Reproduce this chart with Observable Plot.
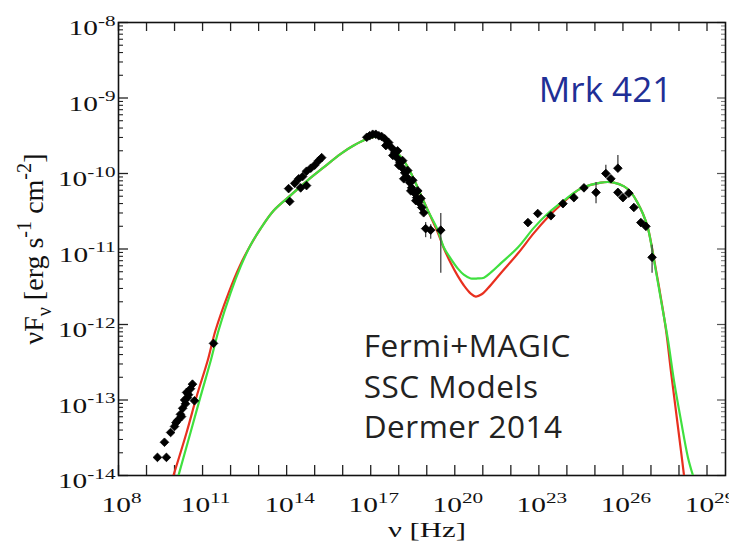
<!DOCTYPE html>
<html><head><meta charset="utf-8">
<script src="https://cdn.jsdelivr.net/npm/d3@7"></script>
<script src="https://cdn.jsdelivr.net/npm/@observablehq/plot@0.6"></script>
<style>html,body{margin:0;padding:0;background:#fff} svg{display:block}</style>
</head><body><div id="chart"></div>
<script>
// ---- Data: pairs are [log10 ν (Hz), log10 νFν (erg s^-1 cm^-2)] ----
const radioPts = [
  [9.39,-13.76],[9.71,-13.76],[9.64,-13.56],[9.86,-13.43],[10.0,-13.35],[10.05,-13.30],
  [10.11,-13.27],[10.21,-13.19],[10.25,-13.22],[10.29,-13.11],[10.36,-13.0],[10.39,-13.05],
  [10.46,-12.97],[10.43,-12.90],[10.5,-12.93],[10.57,-12.85],[10.64,-12.79],[10.71,-13.01],
  [11.39,-12.25]
];
const opticalPts = [
  [14.11,-10.37],[14.07,-10.20],[14.29,-10.13],[14.43,-10.07],[14.57,-10.04],[14.71,-9.97],
  [14.86,-9.93],[15.0,-9.89],[15.14,-9.83],[15.25,-9.79],[14.5,-10.19],[14.71,-10.16]
];
const xrayPts = [
  [16.86,-9.52],[16.96,-9.50],[17.07,-9.48],[17.18,-9.48],[17.29,-9.50],[17.39,-9.51],[17.50,-9.54],
  [17.54,-9.63],[17.64,-9.59],[17.75,-9.66],[17.79,-9.76],[17.86,-9.72],[17.93,-9.79],[17.96,-9.70],
  [18.0,-9.89],[18.04,-9.85],[18.11,-9.92],[18.14,-9.83],[18.18,-10.07],[18.21,-9.99],[18.29,-10.05],
  [18.32,-9.96],[18.39,-10.12],[18.43,-10.23],[18.46,-10.19],[18.5,-10.09],[18.54,-10.25],[18.61,-10.36],
  [18.64,-10.32],[18.68,-10.23],[18.71,-10.38],[18.79,-10.33],[18.82,-10.45],[18.89,-10.52],
  [18.96,-10.73],[19.14,-10.75],[19.5,-10.75]
];
const gammaPts = [
  [22.61,-10.65],[22.96,-10.53],[23.43,-10.56],[23.86,-10.40],[24.25,-10.32],[24.61,-10.19],
  [25.04,-10.25],[25.39,-10.00],[25.57,-10.07],[25.82,-9.93],[25.82,-10.25],[26.0,-10.32],
  [26.21,-10.26],[26.39,-10.45],[26.64,-10.65],[26.82,-10.70],[27.04,-11.11]
];
// error bars: [log10 ν, log10 low, log10 high]
const errorBars = [
  [18.96,-10.85,-10.65],[19.14,-10.87,-10.68],[19.5,-11.32,-10.53],
  [25.04,-10.40,-10.12],[25.39,-10.05,-9.89],[25.82,-9.98,-9.76],[27.04,-11.32,-10.95]
];
// SSC model curves
const greenCurve = [
  [10.14,-14.0],[10.57,-13.43],[10.93,-12.95],[11.29,-12.48],[11.57,-12.08],[12.0,-11.58],
  [12.36,-11.23],[12.71,-10.95],[13.07,-10.73],[13.54,-10.49],[14.14,-10.29],[14.75,-10.09],
  [15.32,-9.92],[15.93,-9.74],[16.39,-9.63],[16.89,-9.54],[17.29,-9.51],[17.61,-9.59],
  [17.89,-9.70],[18.18,-9.83],[18.43,-9.99],[18.68,-10.19],[19.04,-10.49],[19.39,-10.75],
  [19.61,-10.98],[19.86,-11.13],[20.11,-11.26],[20.32,-11.34],[20.57,-11.39],[20.82,-11.39],
  [21.04,-11.38],[21.29,-11.31],[21.64,-11.19],[22.25,-10.98],[22.82,-10.72],[23.32,-10.53],
  [23.89,-10.36],[24.5,-10.20],[25.21,-10.12],[25.68,-10.12],[26.04,-10.17],[26.29,-10.25],
  [26.54,-10.40],[26.71,-10.53],[26.89,-10.72],[27.11,-11.15],[27.36,-11.68],[27.61,-12.21],
  [27.82,-12.74],[28.07,-13.27],[28.32,-13.76],[28.5,-14.0]
];
const redCurve = [
  [9.96,-14.0],[10.43,-13.43],[10.79,-12.95],[11.18,-12.48],[11.46,-12.08],[11.93,-11.58],
  [12.32,-11.23],[12.68,-10.97],[13.07,-10.73],[13.54,-10.49],[14.14,-10.29],[14.75,-10.09],
  [15.32,-9.92],[15.93,-9.74],[16.39,-9.63],[16.89,-9.54],[17.29,-9.51],[17.61,-9.59],
  [17.89,-9.70],[18.18,-9.83],[18.43,-9.99],[18.68,-10.19],[19.04,-10.49],[19.39,-10.78],
  [19.61,-10.99],[19.86,-11.19],[20.11,-11.36],[20.32,-11.48],[20.57,-11.59],[20.75,-11.63],
  [20.96,-11.60],[21.18,-11.52],[21.64,-11.32],[22.25,-11.06],[22.82,-10.79],[23.32,-10.58],
  [23.68,-10.45],[24.25,-10.26],[24.5,-10.20],[25.21,-10.12],[25.68,-10.12],[26.04,-10.17],
  [26.29,-10.25],[26.54,-10.40],[26.71,-10.53],[26.89,-10.72],[27.18,-11.28],[27.36,-11.66],
  [27.54,-12.08],[27.71,-12.61],[27.89,-13.14],[28.07,-13.67],[28.18,-14.0]
];
// axes
const xDomainExp = [8, 29.66];
const yDomainExp = [-14, -8];
const xTickExps = d3.range(8, 30);
const xLabelExps = [8, 11, 14, 17, 20, 23, 26, 29];
const yLabelExps = [-14, -13, -12, -11, -10, -9, -8];
const yMinor = d3.range(-14, -8).flatMap(e => d3.range(2, 10).map(m => m * 10 ** e));
const xTitle = "ν [Hz]";
const yTitle = "νF_{ν} [erg s^{-1} cm^{-2}]";
const sourceName = "Mrk 421";
const noteText = "Fermi+MAGIC\nSSC Models\nDermer 2014";
const sourcePos = [23.0, -8.9];
const notePos = [16.75, -12.8];

const W = 729, H = 545, mL = 118, mR = 4, mT = 22, mB = 70;
const fW = W - mL - mR, fH = H - mT - mB;
const P = p => ({x: 10 ** p[0], y: 10 ** p[1]});
const allPts = [...radioPts, ...opticalPts, ...xrayPts, ...gammaPts].map(P);
const serif = "Liberation Serif";

const chart = Plot.plot({
  width: W, height: H,
  marginLeft: mL, marginRight: mR, marginTop: mT, marginBottom: mB,
  x: {type: "log", domain: xDomainExp.map(e => 10 ** e), axis: null},
  y: {type: "log", domain: yDomainExp.map(e => 10 ** e), axis: null},
  marks: [
    // ticks (inward)
    Plot.ruleX(xTickExps.map(e => 10 ** e), {x: d => d, insetTop: fH - 10, stroke: "#222", strokeWidth: 1.3}),
    Plot.ruleX(xTickExps.map(e => 10 ** e), {x: d => d, insetBottom: fH - 9, stroke: "#222", strokeWidth: 1.3}),
    Plot.ruleY(yLabelExps.map(e => 10 ** e), {y: d => d, insetRight: fW - 10, stroke: "#222", strokeWidth: 1.3}),
    Plot.ruleY(yMinor, {y: d => d, insetRight: fW - 5, stroke: "#222", strokeWidth: 1.1}),
    Plot.ruleY(yLabelExps.map(e => 10 ** e), {y: d => d, insetLeft: fW - 8, stroke: "#555", strokeWidth: 1.2}),
    Plot.ruleY(yMinor, {y: d => d, insetLeft: fW - 4, stroke: "#777", strokeWidth: 1}),
    Plot.frame({stroke: "#111", strokeWidth: 1.6}),
    // tick labels
    Plot.text(xLabelExps, {x: e => 10 ** e, frameAnchor: "bottom", lineAnchor: "top", dy: 22, dx: 3,
      text: e => `10^{${e}}`, fontSize: 21, fontFamily: serif, fill: "#111"}),
    Plot.text(yLabelExps, {y: e => 10 ** e, frameAnchor: "left", textAnchor: "end", lineAnchor: "middle", dx: -3, dy: 6,
      text: e => `10^{${e}}`, fontSize: 21, fontFamily: serif, fill: "#111"}),
    // axis titles
    Plot.text([xTitle], {frameAnchor: "bottom", textAnchor: "middle", lineAnchor: "middle", dy: 54, dx: 5, text: d => d,
      fontSize: 22, fontFamily: serif, fill: "#111"}),
    Plot.text([yTitle], {frameAnchor: "left", textAnchor: "middle", lineAnchor: "middle", rotate: -90, dx: -84, text: d => d,
      fontSize: 28, fontFamily: serif, fill: "#111"}),
    // models
    Plot.line(redCurve.map(P), {x: "x", y: "y", stroke: "#e8301f", strokeWidth: 2.2, curve: "catmull-rom", clip: true}),
    Plot.line(greenCurve.map(P), {x: "x", y: "y", stroke: "#3fe03f", strokeWidth: 2.2, curve: "catmull-rom", clip: true}),
    // data
    Plot.ruleX(errorBars, {x: d => 10 ** d[0], y1: d => 10 ** d[1], y2: d => 10 ** d[2], stroke: "#444", strokeWidth: 1.3}),
    Plot.dot(allPts, {x: "x", y: "y", symbol: "diamond2", r: 3.9, fill: "#000", stroke: "#000", strokeWidth: 0.8}),
    // annotations
    Plot.text([sourceName], {x: () => 10 ** sourcePos[0], y: () => 10 ** sourcePos[1], text: d => d,
      textAnchor: "start", lineAnchor: "middle", fontSize: 35, fontFamily: "Open Sans", fill: "#1f2f96"}),
    Plot.text([noteText], {x: () => 10 ** notePos[0], y: () => 10 ** notePos[1], text: d => d,
      textAnchor: "start", lineAnchor: "middle", lineHeight: 1.28, fontSize: 31.5, fontFamily: "Open Sans", fill: "#222"})
  ]
});

// rich text: ^{sup} and _{sub}
function richify(el, S) {
  const raw = el.textContent;
  if (!/[\^_]\{/.test(raw)) return false;
  const parts = raw.split(/([\^_]\{[^}]*\})/).filter(p => p !== "");
  while (el.firstChild) el.removeChild(el.firstChild);
  let shift = 0;
  for (const p of parts) {
    const ts = document.createElementNS("http://www.w3.org/2000/svg", "tspan");
    let target = 0, size = S, txt = p;
    if (p.startsWith("^{")) { target = -0.45 * S; size = 0.72 * S; txt = p.slice(2, -1); }
    else if (p.startsWith("_{")) { target = 0.28 * S; size = 0.72 * S; txt = p.slice(2, -1); }
    const dy = target - shift;
    if (dy) ts.setAttribute("dy", dy);
    shift = target;
    ts.setAttribute("font-size", size);
    ts.textContent = txt;
    el.appendChild(ts);
  }
  return true;
}
function stretch(el, sx) {
  const t = el.getAttribute("transform");
  if (t) el.setAttribute("transform", t + ` scale(${sx},1)`);
  else {
    const x = +el.getAttribute("x") || 0, y = +el.getAttribute("y") || 0;
    el.setAttribute("x", 0); el.setAttribute("y", 0);
    el.setAttribute("transform", `translate(${x},${y}) scale(${sx},1)`);
  }
}
d3.select(chart).selectAll("text").each(function() {
  const raw = this.textContent;
  if (raw.startsWith("10^{")) { richify(this, 21); stretch(this, 1.4); }
  else if (raw === xTitle) { stretch(this, 1.4); }
  else if (raw === yTitle) { richify(this, 28); }
  else if (raw.startsWith("Fermi")) { this.setAttribute("letter-spacing", "0.5"); }
});
document.getElementById("chart").appendChild(chart);
</script></body></html>
